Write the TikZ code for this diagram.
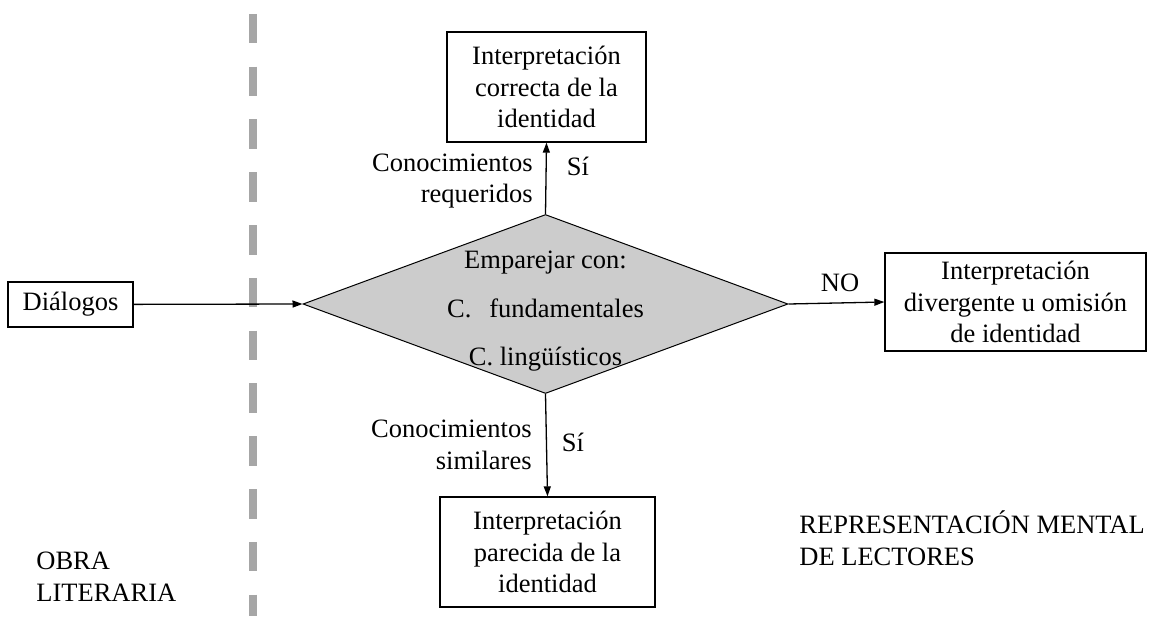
\documentclass[tikz,border=0pt]{standalone}
\usepackage{fontspec}
\setmainfont{Liberation Serif}
\usetikzlibrary{arrows.meta,shapes.geometric}
\begin{document}
\begin{tikzpicture}[x=0.5pt, y=-0.5pt,
  font=\fontsize{13.25}{15.9}\selectfont,
  box/.style={draw, line width=0.65pt, align=center, inner sep=0pt},
  conn/.style={line width=0.65pt, -{Triangle[length=5pt, width=3.5pt]}},
  lbl/.style={inner sep=0pt, align=right, anchor=east},
  side/.style={inner sep=0pt, align=left, anchor=west}]
\definecolor{sep}{HTML}{A6A6A6}
\definecolor{dec}{HTML}{CCCCCC}
\useasboundingbox (0,0) rectangle (1161,616);
\draw[sep, line width=4.25pt, dash pattern=on 14.75pt off 11.65pt] (253,13.8) -- (253,616);
\node[box, minimum width=62.5pt, minimum height=22.5pt] (dlg) at (70.5,304.5) {Diálogos};
\node[diamond, draw, line width=0.5pt, fill=dec, inner sep=0pt, minimum width=242.5pt, minimum height=89.5pt] (match) at (545.5,304) {};
\node[align=center, inner sep=0pt, font=\fontsize{13.25}{24.25}\selectfont] (matchtxt) at (545.5,311.5)
  {Emparejar con:\\C.\hspace{9pt}fundamentales\\C. lingüísticos};
\node[box, minimum width=99.5pt, minimum height=55pt] (right) at (546.5,87) {Interpretación\\correcta de la\\identidad};
\node[box, minimum width=107.5pt, minimum height=55pt] (similar) at (547.5,552) {Interpretación\\parecida de la\\identidad};
\node[box, minimum width=130.5pt, minimum height=49pt] (diverge) at (1015.5,302) {Interpretación\\divergente u omisión\\de identidad};
\draw[conn] (dlg) -- (match.west);
\draw[conn] (match.north) -- (right.south);
\draw[conn] (match.south) -- (similar.north);
\draw[conn] (match.east) -- (diverge.west);
\node[lbl] (req) at (533,181) {Conocimientos\\requeridos};
\node[inner sep=0pt] (yes1) at (578,166) {Sí};
\node[lbl] (sim) at (532,445) {Conocimientos\\similares};
\node[inner sep=0pt] (yes2) at (573,442) {Sí};
\node[inner sep=0pt] (no) at (840,283) {NO};
\node[side] (obra) at (36,577) {OBRA\\LITERARIA};
\node[side] (lect) at (799,538) {REPRESENTACIÓN MENTAL\\DE LECTORES};
\end{tikzpicture}
\end{document}
